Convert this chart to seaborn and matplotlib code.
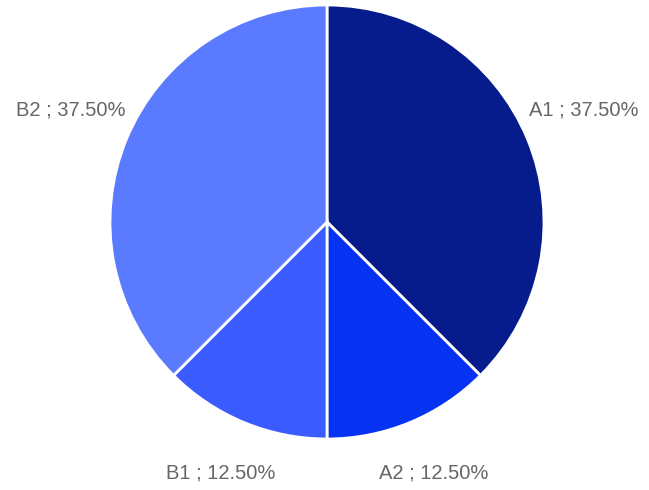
import matplotlib
matplotlib.use("Agg")
import matplotlib.pyplot as plt
import seaborn as sns

# slice data, clockwise from 12 o'clock
categories = ["A1", "A2", "B1", "B2"]
shares = [37.5, 12.5, 12.5, 37.5]
colors = ["#061c8c", "#0632f2", "#3a5cff", "#5a7aff"]

sns.set_theme(style="white")
plt.rcParams["font.family"] = ["Liberation Sans", "DejaVu Sans"]

W, H, DPI = 649, 490, 100
cx, cy, r = 327, 222, 217  # pie centre / radius in pixels (from top-left)

fig = plt.figure(figsize=(W / DPI, H / DPI), dpi=DPI)
ax = fig.add_axes([0, 0, 1, 1])

labels = [f"{c} ; {s:.2f}%" for c, s in zip(categories, shares)]
wedges, texts = ax.pie(
    shares,
    labels=labels,
    colors=colors,
    startangle=90,
    counterclock=False,
    labeldistance=1.28,
    wedgeprops={"edgecolor": "white", "linewidth": 2},
    textprops={"color": "#666666", "fontsize": 14.5},
    frame=False,
)
for t in texts:
    t.set_ha("center")
    t.set_va("baseline")

ax.set_aspect("auto")
ax.set_xlim(-cx / r, (W - cx) / r)
ax.set_ylim(-(H - cy) / r, cy / r)
ax.axis("off")

fig.savefig("out.png", dpi=DPI, facecolor="white")
